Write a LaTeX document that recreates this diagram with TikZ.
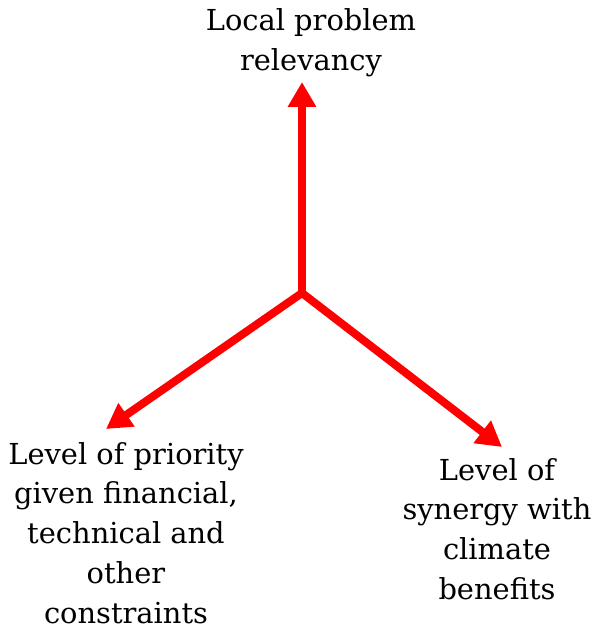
\documentclass[tikz,border=0pt]{standalone}
\usepackage{fontspec}
\setmainfont{DejaVu Serif}
\usetikzlibrary{arrows.meta, positioning}

\begin{document}
\begin{tikzpicture}[x=1bp, y=-1bp,
  axislabel/.style={align=center, font=\fontsize{29}{40}\selectfont},
  axisarrow/.style={-{Triangle[length=25bp,width=27bp]}, red, line width=8bp}]
\useasboundingbox (0,0) rectangle (594,631);
% origin and arrow tips
\coordinate (o) at (302,293);
\coordinate (tiptop) at (302,82);
\coordinate (tipleft) at (106,429);
\coordinate (tipright) at (502,447);
% labels
\node[axislabel] (local) at (311,43) {Local problem\\relevancy};
\node[axislabel] (priority) at (126,533) {Level of priority\\given financial,\\technical and\\other\\constraints};
\node[axislabel] (synergy) at (497,529) {Level of\\synergy with\\climate\\benefits};
% axes
\draw[axisarrow] (o) -- (tiptop);
\draw[axisarrow] (o) -- (tipleft);
\draw[axisarrow] (o) -- (tipright);
\end{tikzpicture}
\end{document}
